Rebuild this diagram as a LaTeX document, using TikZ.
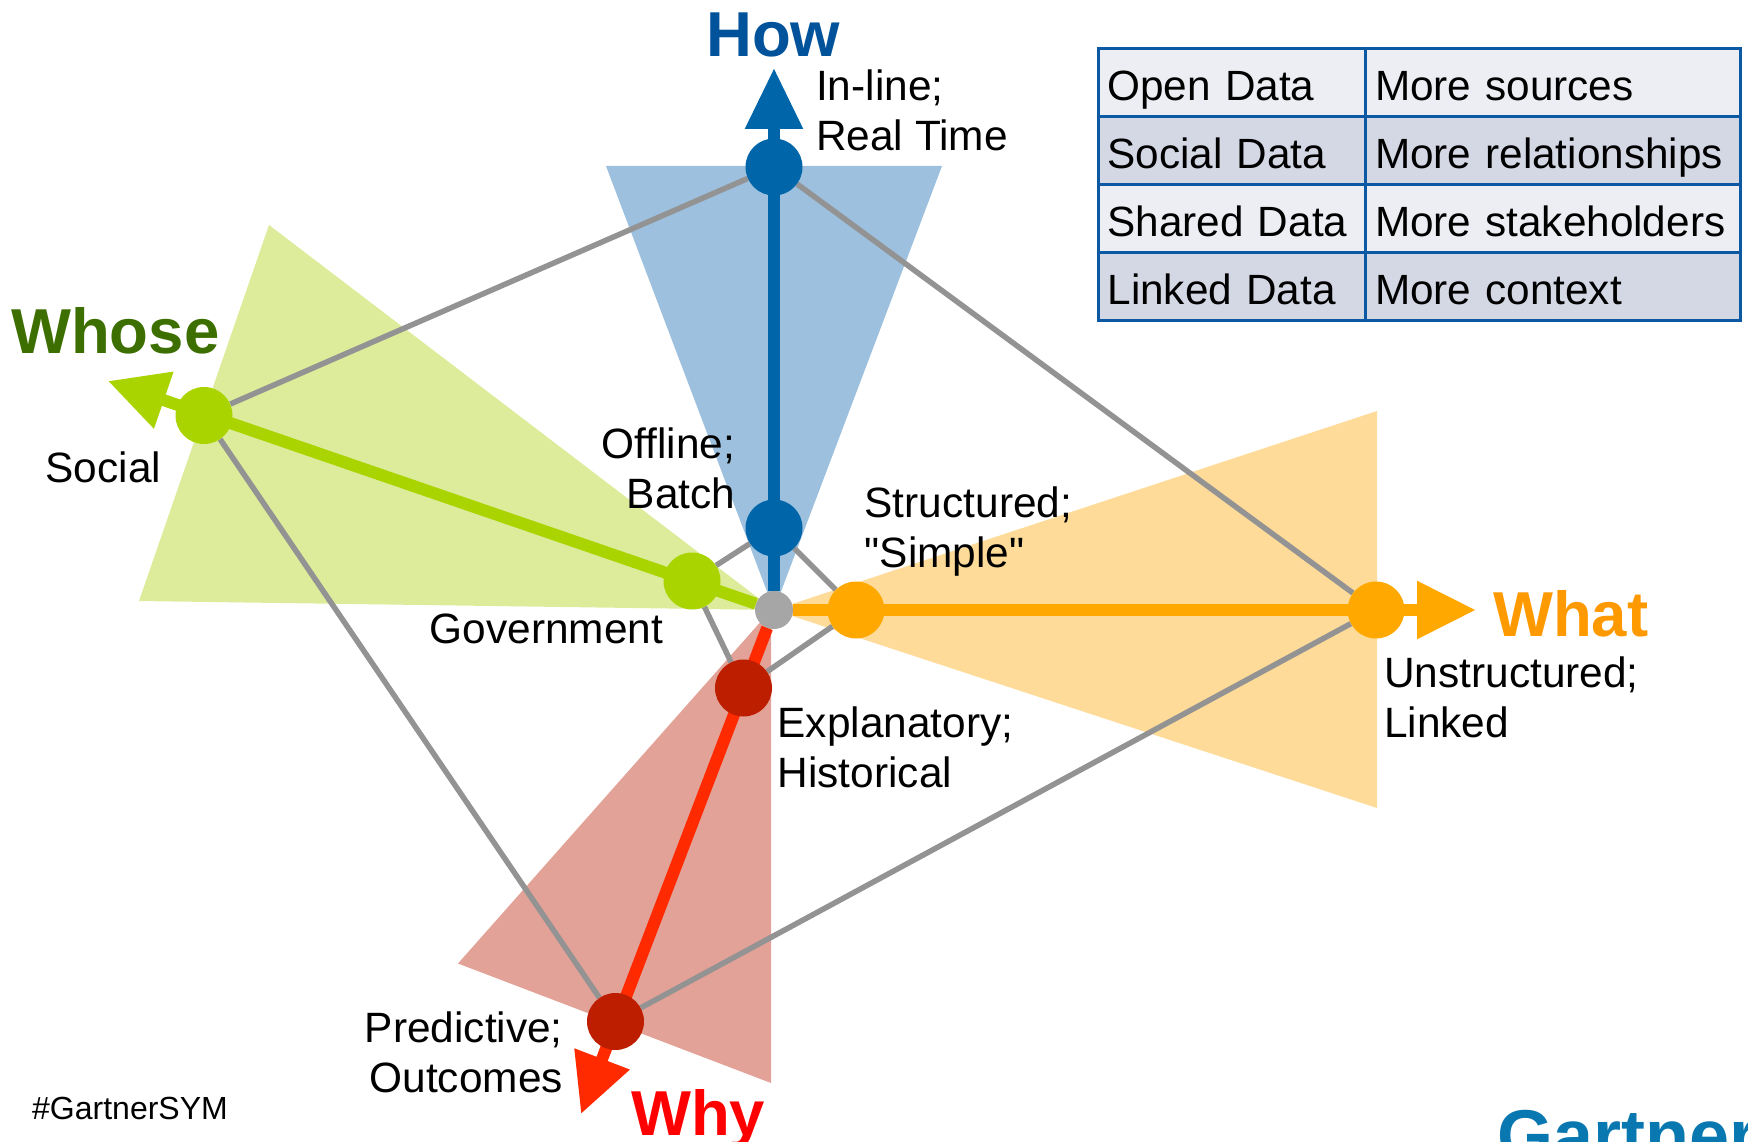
\documentclass[tikz,border=0pt]{standalone}
\usepackage{fontspec}
\setmainfont{Liberation Sans}[Ligatures=TeXOff]
\usetikzlibrary{arrows.meta,backgrounds}
\definecolor{cblue}{HTML}{0066A9}\definecolor{tblue}{HTML}{9CC0DD}
\definecolor{cgreen}{HTML}{AAD400}\definecolor{tgreen}{HTML}{DCEC9A}
\definecolor{corange}{HTML}{FFA800}\definecolor{torange}{HTML}{FEDB98}
\definecolor{cred}{HTML}{BE1E00}\definecolor{lred}{HTML}{FF2A00}\definecolor{tred}{HTML}{E3A297}
\definecolor{cgrey}{HTML}{A6A6A6}\definecolor{lgrey}{HTML}{939393}
\definecolor{rowa}{HTML}{ECEEF3}\definecolor{rowb}{HTML}{D3D8E4}\definecolor{tborder}{HTML}{0B58A3}
\definecolor{thow}{HTML}{00529B}\definecolor{twhose}{HTML}{3C6E00}\definecolor{twhat}{HTML}{FF9900}
\definecolor{gart}{HTML}{0A78B0}
\tikzset{
  dot/.style={circle,inner sep=0pt,minimum size=57pt,fill=#1},
  hubdot/.style={circle,inner sep=0pt,minimum size=38pt,fill=cgrey},
  grayline/.style={draw=lgrey,line width=5.5pt},
  axis/.style={draw=#1,line width=12pt},
  lab/.style={inner sep=0pt,anchor=base west,font=\fontsize{42.4}{50}\selectfont,align=left},
  labr/.style={inner sep=0pt,anchor=base east,font=\fontsize{42.4}{50}\selectfont,align=right},
  ttl/.style={inner sep=0pt,anchor=base west,font=\fontsize{63.5}{70}\selectfont\bfseries,text=#1},
  cell/.style={draw=tborder,line width=3pt,outer sep=0pt,inner xsep=9.5pt,inner ysep=0pt,anchor=north west,
    fill=#1,align=left,minimum height=68pt,text height=36.5pt,text depth=1pt,font=\fontsize{42.3}{48}\selectfont},
}
\begin{document}
\begin{tikzpicture}[x=1pt,y=-1pt]
\useasboundingbox (0,0) rectangle (1748,1142);
% arrow tips
\coordinate (hT) at (774,68);
\coordinate (wT) at (108,381);
\coordinate (aT) at (1476,610);
\coordinate (yT) at (581,1114);
% nodes
\node[hubdot] (c) at (774,610) {};
\node[dot=cblue] (h1) at (774,167) {};
\node[dot=cblue] (h2) at (774,528) {};
\node[dot=cgreen] (w1) at (204,415.5) {};
\node[dot=cgreen] (w2) at (692,581) {};
\node[dot=corange] (a1) at (1376,610) {};
\node[dot=corange] (a2) at (856,610) {};
\node[dot=cred] (y1) at (615.5,1021.5) {};
\node[dot=cred] (y2) at (743.5,688) {};
\begin{scope}[on background layer]
  % shaded triangles
  \fill[tblue] (606,166) -- (942,166) -- (774,610) -- cycle;
  \fill[tgreen] (269,225) -- (139,601) -- (774,610) -- cycle;
  \fill[torange] (1377,411) -- (1377,808) -- (774,610) -- cycle;
  \fill[tred] (458,963.5) -- (771,1083) -- (771,610) -- cycle;
  % grey connectors
  \draw[grayline] (h1) -- (w1);
  \draw[grayline] (h1) -- (a1);
  \draw[grayline] (a1) -- (y1);
  \draw[grayline] (y1) -- (w1);
  \draw[grayline] (h2) -- (w2);
  \draw[grayline] (h2) -- (a2);
  \draw[grayline] (a2) -- (y2);
  \draw[grayline] (y2) -- (w2);
  % axes
  \draw[axis=cblue,-{Triangle[length=61pt,width=55pt]}] (c) -- (hT);
  \draw[axis=cgreen,-{Triangle[length=59pt,width=57pt]}] (c) -- (wT);
  \draw[axis=corange,-{Triangle[length=59pt,width=55pt]}] (c) -- (aT);
  \draw[axis=lred,-{Triangle[length=59pt,width=56pt]}] (c) -- (yT);
\end{scope}
% labels
\node[lab] (l1) at (816,151) {In-line;\\Real Time};
\node[labr] (l2) at (735.5,508.5) {Offline;\\Batch};
\node[lab] (l3) at (45.5,482) {Social};
\node[lab] (l4) at (429.5,643) {Government};
\node[lab] (l5) at (864.5,567) {Structured;\\"Simple"};
\node[lab] (l6) at (1384,737.5) {Unstructured;\\Linked};
\node[lab] (l7) at (777.5,787) {Explanatory;\\Historical};
\node[labr] (l8) at (563,1092) {Predictive;\\Outcomes};
\node[ttl=thow] (t1) at (706,57) {How};
\node[ttl=twhose] (t2) at (11,353.5) {Whose};
\node[ttl=twhat] (t3) at (1493,636) {What};
\node[ttl=red] (t4) at (631,1135) {Why};
\node[inner sep=0pt,anchor=base west,font=\fontsize{32}{36}\selectfont] (tag) at (32,1119) {\#GartnerSYM};
\node[inner sep=0pt,anchor=base west,font=\fontsize{72}{80}\selectfont\bfseries,text=gart] (logo) at (1497,1160) {Gartner};
% table
\foreach \n/\ya/\col/\ta/\tb in {1/48.5/rowa/Open Data/More sources,2/116.5/rowb/Social Data/More relationships,3/184.5/rowa/Shared Data/More stakeholders,4/252.5/rowb/Linked Data/More context}{
  \node[cell=\col,text width=249pt] (a\n x) at (1098,\ya) {\ta};
  \node[cell=\col,text width=356pt] (b\n x) at (1365.5,\ya) {\tb};
}
\end{tikzpicture}
\end{document}
